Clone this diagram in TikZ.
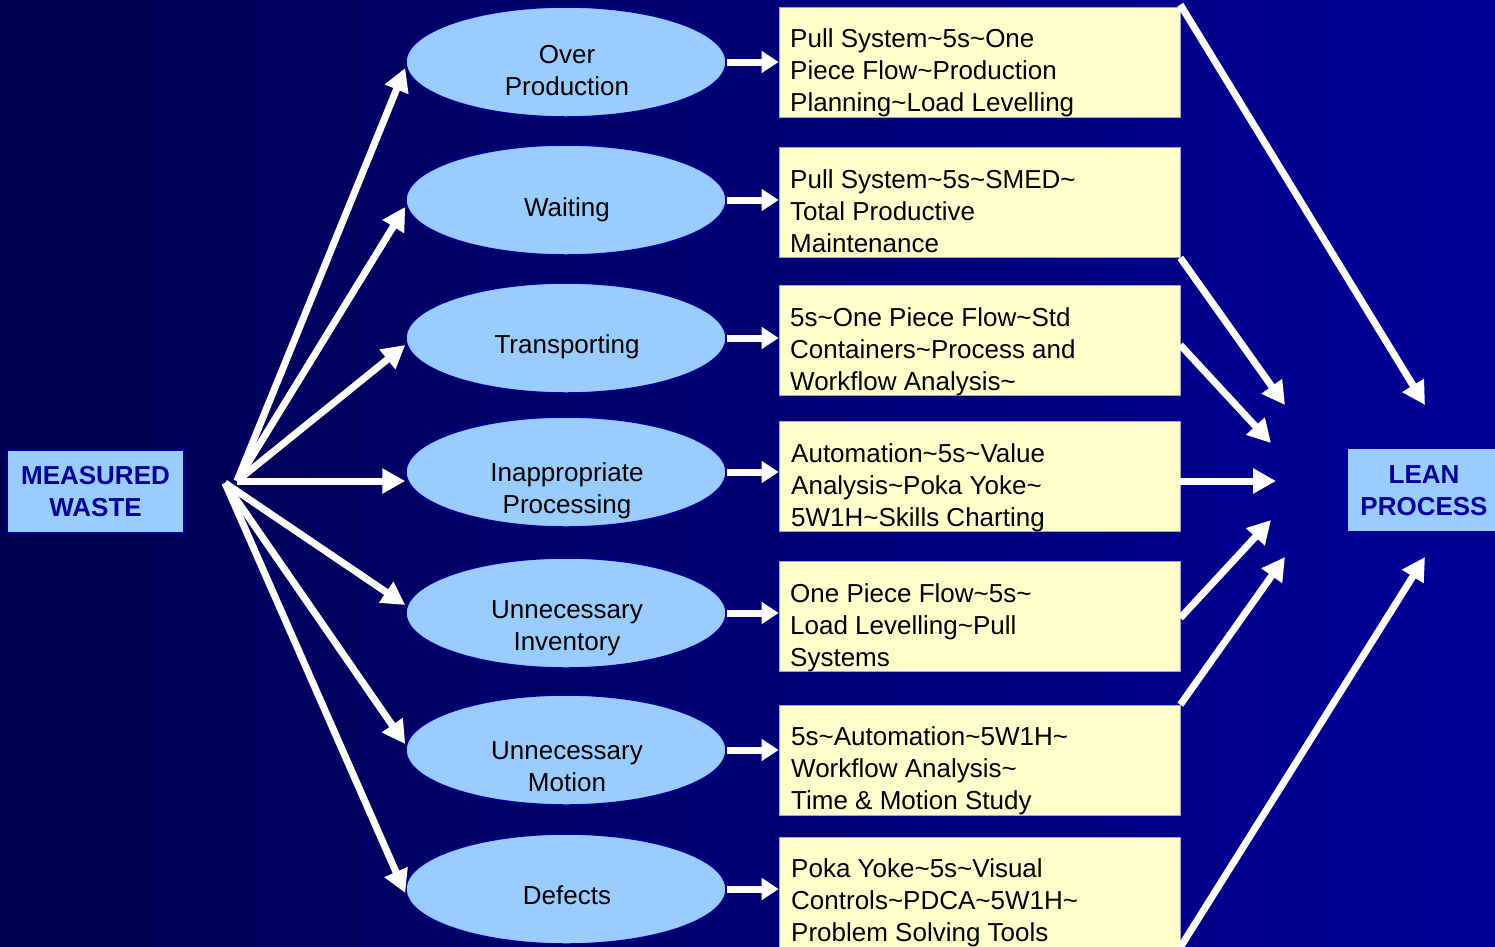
\documentclass[tikz,border=0pt]{standalone}
\usepackage{fontspec}
\setmainfont{Liberation Sans}
\usetikzlibrary{arrows.meta,shapes.geometric}
\definecolor{bgleft}{RGB}{0,0,80}
\definecolor{bgright}{RGB}{0,0,153}
\definecolor{navy}{RGB}{0,0,153}
\definecolor{wastefill}{RGB}{153,204,255}
\definecolor{remedyfill}{RGB}{255,255,204}
\definecolor{remedyedge}{RGB}{160,160,200}
\newcommand\tld{\textasciitilde}
\begin{document}
\begin{tikzpicture}[x=1pt,y=-1pt,
  endbox/.style={draw=navy, line width=1.5pt, fill=wastefill, rectangle,
    minimum height=83pt, inner sep=0pt},
  endtext/.style={font=\bfseries\fontsize{26}{32}\selectfont, text=navy,
    align=center, inner sep=0pt, anchor=base},
  waste/.style={ellipse, draw=navy, line width=1.5pt, fill=wastefill,
    minimum width=320pt, minimum height=110pt, inner sep=0pt},
  wastetext/.style={font=\fontsize{26}{32}\selectfont, align=center,
    inner sep=0pt, anchor=base},
  remedy/.style={rectangle, draw=remedyedge, line width=0.6pt, fill=remedyfill,
    minimum width=401pt, minimum height=110pt, inner sep=0pt},
  remedytext/.style={font=\fontsize{26}{32}\selectfont, align=left,
    inner sep=0pt, anchor=base west},
  flow/.style={draw=white, line width=7pt,
    -{Triangle[length=23pt,width=24pt]}},
  short/.style={draw=white, line width=7pt,
    -{Triangle[length=17pt,width=21pt]}}
]
% backdrop
\useasboundingbox (0,0) rectangle (1495,946);
\fill[left color=bgleft, right color=bgright] (0,0) rectangle (1495,946);

% start and goal (text nodes are placed by the baseline of their last line)
\node[endbox, minimum width=177pt] (mw) at (95.5,491.5) {};
\node[endtext] (mwt) at (95.5,516) {MEASURED\\WASTE};
\node[endbox, minimum width=154pt] (lp) at (1424,490) {};
\node[endtext] (lpt) at (1424,515) {LEAN\\PROCESS};

% kinds of waste
\node[waste] (op) at (566,62)  {};
\node[waste] (wt) at (566,200) {};
\node[waste] (tr) at (566,338) {};
\node[waste] (ip) at (566,472) {};
\node[waste] (ui) at (566,613) {};
\node[waste] (um) at (566,750) {};
\node[waste] (df) at (566,889) {};
\node[wastetext] (opt) at (567,95)  {Over\\Production};
\node[wastetext] (wtt) at (567,216) {Waiting};
\node[wastetext] (trt) at (567,353) {Transporting};
\node[wastetext] (ipt) at (567,513) {Inappropriate\\Processing};
\node[wastetext] (uit) at (567,650) {Unnecessary\\Inventory};
\node[wastetext] (umt) at (567,791) {Unnecessary\\Motion};
\node[wastetext] (dft) at (567,904) {Defects};

% remedies
\node[remedy] (b1) at (979.5,62)  {};
\node[remedy] (b2) at (979.5,202.5) {};
\node[remedy] (b3) at (979.5,340) {};
\node[remedy] (b4) at (979.5,476) {};
\node[remedy] (b5) at (979.5,616) {};
\node[remedy] (b6) at (979.5,760) {};
\node[remedy] (b7) at (979.5,892) {};
\node[remedytext] (b1t) at (790,111) {Pull System\tld5s\tld One\\Piece Flow\tld Production\\Planning\tld Load Levelling};
\node[remedytext] (b2t) at (790,252) {Pull System\tld5s\tld SMED\tld\\Total Productive\\Maintenance};
\node[remedytext] (b3t) at (790,390) {5s\tld One Piece Flow\tld Std\\Containers\tld Process and\\Workflow Analysis\tld};
\node[remedytext] (b4t) at (791,526) {Automation\tld5s\tld Value\\Analysis\tld Poka Yoke\tld\\5W1H\tld Skills Charting};
\node[remedytext] (b5t) at (790,666) {One Piece Flow\tld5s\tld\\Load Levelling\tld Pull\\Systems};
\node[remedytext] (b6t) at (791,809) {5s\tld Automation\tld5W1H\tld\\Workflow Analysis\tld\\Time \& Motion Study};
\node[remedytext] (b7t) at (791,941) {Poka Yoke\tld5s\tld Visual\\Controls\tld PDCA\tld5W1H\tld\\Problem Solving Tools};

% fan-out points and arrow targets
\coordinate (hub)  at (237,481);
\coordinate (hubb) at (225,483);
\coordinate (t1) at (1425,405);
\coordinate (t2) at (1285,405);
\coordinate (t3) at (1271,443);
\coordinate (t4) at (1276,481);
\coordinate (t5) at (1271,520);
\coordinate (t6) at (1285,557);
\coordinate (t7) at (1425,557);

% measured waste to each kind of waste
\draw[flow] (hub) -- ([yshift=-6pt]op.west);
\draw[flow] (hub) -- ([yshift=-7pt]wt.west);
\draw[flow] (hub) -- ([yshift=-7pt]tr.west);
\draw[flow] (hub) -- ([yshift=-9pt]ip.west);
\draw[flow] (hubb) -- ([yshift=8pt]ui.west);
\draw[flow] (hubb) -- ([yshift=6pt]um.west);
\draw[flow] (hubb) -- ([yshift=-4pt]df.west);

% waste to remedy
\foreach \e/\b in {op/b1,wt/b2,tr/b3,ip/b4,ui/b5,um/b6,df/b7}
  \draw[short] (\e.east) -- (\e.east -| \b.west);

% remedies to lean process
\draw[flow] ([yshift=2pt]b1.north east) -- (t1);
\draw[flow] (b2.south east) -- (t2);
\draw[flow] ([yshift=-5pt]b3.east) -- (t3);
\draw[flow] ([yshift=-5pt]b4.east) -- (t4);
\draw[flow] ([yshift=-2pt]b5.east) -- (t5);
\draw[flow] (b6.north east) -- (t6);
\draw[flow] (b7.south east) -- (t7);
\end{tikzpicture}
\end{document}
